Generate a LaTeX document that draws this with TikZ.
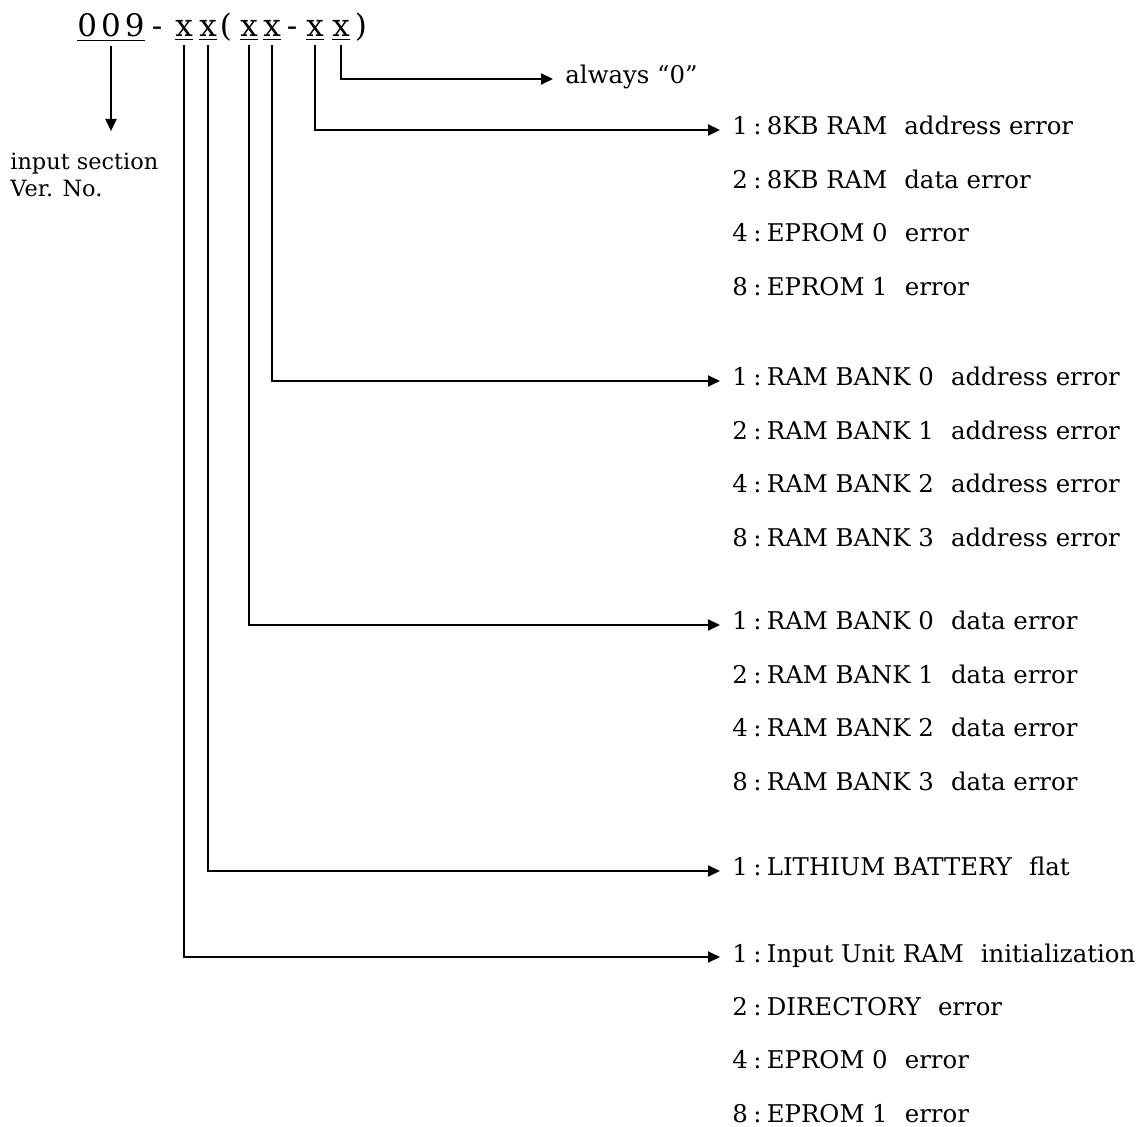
\documentclass[tikz,border=0pt]{standalone}
\usepackage{fontspec}
\setmainfont{DejaVu Serif}
\usepackage{tikz}
\usetikzlibrary{arrows.meta,positioning}
\newcommand{\gap}{\hspace{0.7em}}
\newcommand{\cl}{\hspace{0.22em}:\hspace{0.22em}}

\begin{document}
\begin{tikzpicture}[
    x=0.5pt, y=-0.5pt,
    code/.style={font=\fontsize{15.5}{15.5}\selectfont, inner sep=2pt, anchor=base},
    item/.style={font=\fontsize{12.2}{14}\selectfont, anchor=base west, inner xsep=6pt, inner ysep=0pt, text height=5pt, text depth=0pt},
    next/.style={item, below right=21.3pt and 0pt of #1.south west},
    arrow/.style={-{Triangle[length=6pt,width=5.5pt]}, line width=1pt}
]
    \useasboundingbox (0,0) rectangle (1146,1127);

    % the code
    \node[code] (ver) at (111,37) {\underline{0\hspace{2pt}0\hspace{2pt}9}};
    \node[code] (dashA) at (157,37) {-};
    \node[code] (xa) at (184,37) {\underline{x}};
    \node[code] (xb) at (208,37) {\underline{x}};
    \node[code] (lpar) at (226,37) {(};
    \node[code] (xc) at (249,37) {\underline{x}};
    \node[code] (xd) at (272,37) {\underline{x}};
    \node[code] (dashB) at (292,37) {-};
    \node[code] (xe) at (315,37) {\underline{x}};
    \node[code] (xf) at (341,37) {\underline{x}};
    \node[code] (rpar) at (361,37) {)};

    \node[font=\fontsize{11.2}{13.5}\selectfont, align=left, anchor=north west, inner sep=0pt] (insec) at (10,153) {input section\\Ver. No.};

    % meanings
    \node[item] (zero) at (553,84) {always ``0''};

    \node[item] (ram1) at (720,135) {1\cl 8KB RAM\gap address error};
    \node[next=ram1] (ram2) {2\cl 8KB RAM\gap data error};
    \node[next=ram2] (ram4) {4\cl EPROM 0\gap error};
    \node[next=ram4] (ram8) {8\cl EPROM 1\gap error};

    \node[item] (adr1) at (720,386) {1\cl RAM BANK 0\gap address error};
    \node[next=adr1] (adr2) {2\cl RAM BANK 1\gap address error};
    \node[next=adr2] (adr4) {4\cl RAM BANK 2\gap address error};
    \node[next=adr4] (adr8) {8\cl RAM BANK 3\gap address error};

    \node[item] (dat1) at (720,630) {1\cl RAM BANK 0\gap data error};
    \node[next=dat1] (dat2) {2\cl RAM BANK 1\gap data error};
    \node[next=dat2] (dat4) {4\cl RAM BANK 2\gap data error};
    \node[next=dat4] (dat8) {8\cl RAM BANK 3\gap data error};

    \node[item] (lith) at (720,876) {1\cl LITHIUM BATTERY\gap flat};

    \node[item] (init) at (720,962) {1\cl Input Unit RAM\gap initialization};
    \node[next=init] (dir) {2\cl DIRECTORY\gap error};
    \node[next=dir] (epa) {4\cl EPROM 0\gap error};
    \node[next=epa] (epb) {8\cl EPROM 1\gap error};

    % connectors
    \draw[arrow, shorten >=11pt] (ver.south) -- (ver.south |- insec.north);
    \draw[arrow] (xf.south) |- (zero.west);
    \draw[arrow] (xe.south) |- (ram1.west);
    \draw[arrow] (xd.south) |- (adr1.west);
    \draw[arrow] (xc.south) |- (dat1.west);
    \draw[arrow] (xb.south) |- (lith.west);
    \draw[arrow] (xa.south) |- (init.west);
\end{tikzpicture}
\end{document}
